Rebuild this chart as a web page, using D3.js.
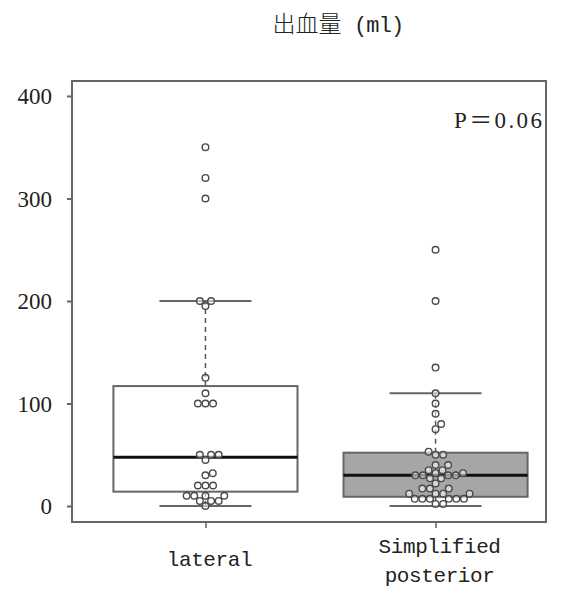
<!DOCTYPE html>
<html>
<head>
<meta charset="utf-8">
<script src="https://cdn.jsdelivr.net/npm/d3@7/dist/d3.min.js"></script>
<style>
  html, body { margin: 0; padding: 0; background: #fff; }
  svg { display: block; }
</style>
</head>
<body>
<div id="chart"></div>
<script>
// Blood loss by approach: box plot with beeswarm points
const groups = ["lateral", "Simplified posterior"]
const groupLabels = [["lateral"], ["Simplified", "posterior"]]

const lateralValues = [350, 320, 300, 200, 200, 195, 125, 110, 100, 100, 100,
  50, 50, 50, 45, 32, 30, 20, 20, 20, 10, 10, 10, 10, 5, 5, 5, 0]
const posteriorValues = [250, 200, 135, 110, 100, 90, 80, 75, 53, 50, 50, 40, 40,
  35, 35, 32, 32, 30, 30, 30, 30, 27, 27, 22, 17, 17, 17, 12, 12, 12, 12,
  7, 7, 7, 7, 7, 7, 2, 2]

// box statistics as drawn in the original
const boxQ1 = [14, 9]
const boxMedian = [47.5, 30]
const boxQ3 = [117, 52]
const whiskerLow = [0, 0]
const whiskerHigh = [200, 110]
const boxFills = ["#ffffff", "#a6a6a6"]

const yTicks = [0, 100, 200, 300, 400]
const titleCjk = "出血量"
const titleUnit = " (ml)"
const pLabel = "P＝0.06"

const width = 567
const height = 591
const plot = { left: 72, right: 546, top: 81, bottom: 522 }

const svg = d3.select("#chart")
  .append("svg")
  .attr("width", width)
  .attr("height", height)

// plot region in data units, like R's usr
const x = d3.scaleLinear()
  .domain([-0.58, 1.48])
  .range([plot.left, plot.right])

const y = d3.scaleLinear()
  .domain([-15.6, 414.6])
  .range([plot.bottom, plot.top])

const lineColor = "#666"
const textColor = "#222"
const serif = "'Liberation Serif', 'Noto Sans CJK SC', serif"
const mono = "'Liberation Mono', 'Noto Sans CJK SC', monospace"

// Title
const title = svg.append("text")
  .attr("x", 338)
  .attr("y", 32)
  .attr("text-anchor", "middle")
  .attr("fill", textColor)
title.append("tspan")
  .style("font-family", "'Noto Sans CJK SC', sans-serif")
  .style("font-size", "23px")
  .style("font-weight", 300)
  .text(titleCjk)
title.append("tspan")
  .style("font-family", mono)
  .style("font-size", "22px")
  .style("letter-spacing", "-0.8px")
  .attr("xml:space", "preserve")
  .text(titleUnit)

// Boxes
const boxWidth = 0.8
const capWidth = 0.4

groups.forEach((g, i) => {
  const gBox = svg.append("g").attr("class", "box")

  // whiskers
  gBox.append("line")
    .attr("x1", x(i)).attr("x2", x(i))
    .attr("y1", y(boxQ3[i])).attr("y2", y(whiskerHigh[i]))
    .attr("stroke", "#555")
    .attr("stroke-width", 1.5)
    .attr("stroke-dasharray", "5,4")
  gBox.append("line")
    .attr("x1", x(i)).attr("x2", x(i))
    .attr("y1", y(boxQ1[i])).attr("y2", y(whiskerLow[i]))
    .attr("stroke", "#555")
    .attr("stroke-width", 1.5)
    .attr("stroke-dasharray", "5,4")

  // caps
  ;[whiskerHigh[i], whiskerLow[i]].forEach(v => {
    gBox.append("line")
      .attr("x1", x(i - capWidth / 2)).attr("x2", x(i + capWidth / 2))
      .attr("y1", y(v)).attr("y2", y(v))
      .attr("stroke", lineColor)
      .attr("stroke-width", 2)
  })

  // box
  gBox.append("rect")
    .attr("x", x(i - boxWidth / 2))
    .attr("width", x(i + boxWidth / 2) - x(i - boxWidth / 2))
    .attr("y", y(boxQ3[i]))
    .attr("height", y(boxQ1[i]) - y(boxQ3[i]))
    .attr("fill", boxFills[i])
    .attr("stroke", lineColor)
    .attr("stroke-width", 2)

  // median
  gBox.append("line")
    .attr("x1", x(i - boxWidth / 2)).attr("x2", x(i + boxWidth / 2))
    .attr("y1", y(boxMedian[i])).attr("y2", y(boxMedian[i]))
    .attr("stroke", "#111")
    .attr("stroke-width", 3)
})

// Beeswarm placement in pixel space
const diameter = 7.6

function swarm(values) {
  const pts = values.map(v => ({ v, py: y(v) }))
    .sort((a, b) => a.v - b.v)
  const placed = []
  pts.forEach(p => {
    const cands = [0]
    placed.forEach(q => {
      const dy = p.py - q.py
      if (Math.abs(dy) < diameter) {
        const dx = Math.sqrt(diameter * diameter - dy * dy)
        cands.push(q.dx + dx, q.dx - dx)
      }
    })
    cands.sort((a, b) => Math.abs(a) - Math.abs(b))
    p.dx = cands.find(c => placed.every(q =>
      (c - q.dx) ** 2 + (p.py - q.py) ** 2 >= diameter * diameter - 0.01))
    placed.push(p)
  })
  return placed
}

;[lateralValues, posteriorValues].forEach((vals, i) => {
  svg.append("g")
    .attr("class", "points")
    .selectAll("circle")
    .data(swarm(vals))
    .enter()
    .append("circle")
    .attr("cx", d => x(i) + d.dx)
    .attr("cy", d => d.py)
    .attr("r", 3.3)
    .attr("fill", "#fff")
    .attr("fill-opacity", 0.55)
    .attr("stroke", "#4a4a4a")
    .attr("stroke-width", 1.4)
})

// Frame
svg.append("rect")
  .attr("x", plot.left)
  .attr("y", plot.top)
  .attr("width", plot.right - plot.left)
  .attr("height", plot.bottom - plot.top)
  .attr("fill", "none")
  .attr("stroke", lineColor)
  .attr("stroke-width", 2)

// Y axis
const yAxis = svg.append("g")
  .attr("class", "y-axis")
  .attr("transform", `translate(${plot.left},0)`)
  .call(d3.axisLeft(y).tickValues(yTicks).tickSize(5).tickPadding(15))
yAxis.select(".domain").remove()
yAxis.selectAll("line").attr("stroke", lineColor).attr("stroke-width", 2)
yAxis.selectAll("text")
  .style("font-family", serif)
  .style("font-size", "23px")
  .attr("fill", textColor)
  .attr("dy", "0.34em")

// X axis
const xAxis = svg.append("g")
  .attr("class", "x-axis")
  .attr("transform", `translate(0,${plot.bottom})`)
  .call(d3.axisBottom(x).tickValues([0, 1]).tickSize(6).tickFormat(""))
xAxis.select(".domain").remove()
xAxis.selectAll("line").attr("stroke", lineColor).attr("stroke-width", 1.5)

const labelBaselines = [[566], [553, 582]]
groupLabels.forEach((lines, i) => {
  lines.forEach((t, j) => {
    svg.append("text")
      .attr("x", x(i) + 4)
      .attr("y", labelBaselines[i][j])
      .attr("text-anchor", "middle")
      .style("font-family", mono)
      .style("font-size", "21px")
      .style("letter-spacing", "-0.4px")
      .attr("fill", textColor)
      .text(t)
  })
})

// P value
svg.append("text")
  .attr("x", 542)
  .attr("y", 128)
  .attr("text-anchor", "end")
  .attr("textLength", 88)
  .attr("lengthAdjust", "spacing")
  .style("font-family", serif)
  .style("font-size", "23px")
  .attr("fill", textColor)
  .text(pLabel)
</script>
</body>
</html>
